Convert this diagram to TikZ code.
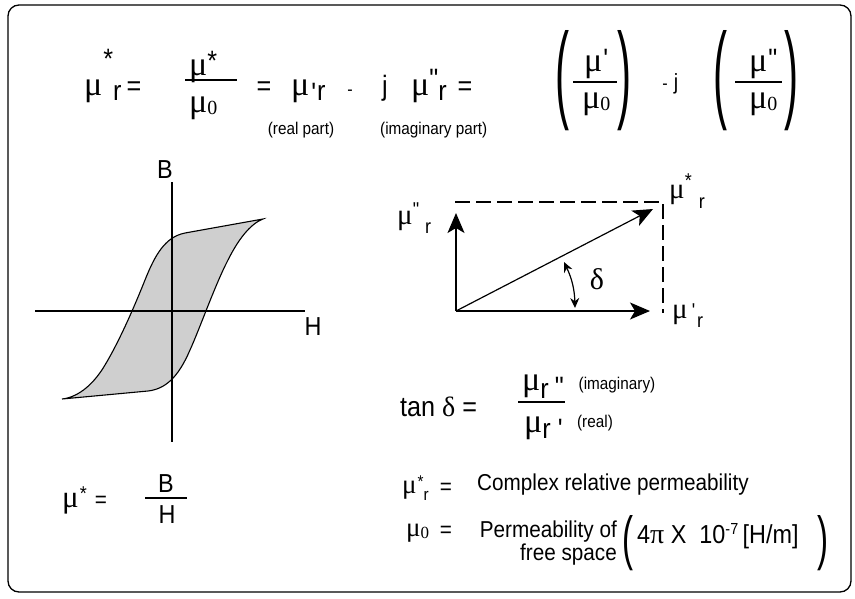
\documentclass[tikz,border=0pt]{standalone}
\usepackage{fontspec}
\usepackage{graphicx}
\newfontfamily\lbl{Liberation Sans}[FakeStretch=0.9]
\newfontfamily\grk{Liberation Serif}
\newcommand\fsz[1]{\fontsize{#1}{#1}\selectfont}
\newcommand\mus[1]{{\grk\fsz{#1}μ}}
\newcommand\muo[2]{\mus{#1}\raisebox{-2pt}{\grk\fsz{#2}0}}
\usetikzlibrary{arrows.meta, calc}

\begin{document}
\begin{tikzpicture}[
    x=1pt, y=-1pt,
    big/.style={inner sep=0pt, font=\lbl\fsz{28}},
    mid/.style={inner sep=0pt, font=\lbl\fsz{23}},
    lab/.style={inner sep=0pt, font=\lbl\fsz{20}},
    tiny/.style={inner sep=0pt, font=\lbl\fsz{17}},
    paren/.style={inner sep=0pt, font=\lbl\fsz{30}},
    bar/.style={line width=1.6pt},
    axis/.style={line width=1.1pt},
    vec/.style={-{Stealth[length=20pt, width=17pt, inset=5pt]}, line width=1.2pt},
    guide/.style={dashed, dash pattern=on 15pt off 6pt, line width=2.6pt},
    loopline/.style={draw=black, fill=black!19, line width=1.1pt},
]
\useasboundingbox (0,0) rectangle (855,598);
\draw[line width=1.3pt, rounded corners=11pt] (8,5) rectangle (851,592);

% Complex relative permeability
\node[big, anchor=base west] (mur) at (84,95) {\mus{34}\kern1pt\raisebox{27pt}{*}\raisebox{-5pt}{r}};
\node[big, anchor=base] (eq1) at (134,95) {=};
\node[big, anchor=base west] (num1) at (189,75) {\mus{34}\raisebox{5pt}{*}};
\node[big, anchor=base west] (den1) at (189,112) {\muo{34}{20}};
\draw[bar] (185,80) -- (237,80);
\node[big, anchor=base] (eq2) at (264,95) {=};
\node[big, anchor=base west] (mupr) at (291,95) {\mus{34}\kern2pt\raisebox{-7pt}{'}\kern1pt\raisebox{-5pt}{r}};
\node[big, anchor=base, font=\lbl\fsz{18}] (minus1) at (350,95) {-};
\node[big, anchor=base] (jay1) at (385,95) {j};
\node[big, anchor=base west] (mudpr) at (411,95) {\mus{34}\raisebox{7pt}{"}\raisebox{-5pt}{r}};
\node[big, anchor=base] (eq3) at (465,95) {=};
\node[tiny] (realpt) at (301,130) {(real part)};
\node[tiny, anchor=west] (imagpt) at (380,130) {(imaginary part)};

% Bracketed quotients
\node[paren] (lp1) at (562,81) {\resizebox{14pt}{78pt}{(}};
\node[big, anchor=base west] (num2) at (584,71) {\mus{34}\kern1pt\raisebox{3pt}{'}};
\draw[bar] (573,82) -- (617,82);
\node[big, anchor=base west] (den2) at (582,108) {\muo{34}{20}};
\node[paren] (rp1) at (624,81) {\resizebox{14pt}{78pt}{)}};
\node[big, anchor=base, font=\lbl\fsz{18}] (minus2) at (665,89) {-};
\node[big, anchor=base, font=\lbl\fsz{22}] (jay2) at (676,89) {j};
\node[paren] (lp2) at (720,81) {\resizebox{14pt}{78pt}{(}};
\node[big, anchor=base west] (num3) at (749,71) {\mus{34}\kern1pt\raisebox{3pt}{"}};
\draw[bar] (735,82) -- (782,82);
\node[big, anchor=base west] (den3) at (749,108) {\muo{34}{20}};
\node[paren] (rp2) at (791,81) {\resizebox{14pt}{78pt}{)}};

% B-H loop
\coordinate (vtop) at (172,182);
\coordinate (vbot) at (172,442);
\coordinate (hlft) at (35,311);
\coordinate (hrgt) at (305,311);
\draw[loopline] (263,219) -- (185,233)
    .. controls (165,237) and (155,255) .. (145,280)
    .. controls (135,305) and (120,340) .. (105,365)
    .. controls (95,382) and (80,397) .. (62,399)
    -- (148,391)
    .. controls (165,389) and (178,378) .. (190,350)
    .. controls (200,328) and (215,285) .. (228,260)
    .. controls (238,240) and (250,224) .. (263,219) -- cycle;
\draw[axis] (vtop) -- (vbot);
\draw[axis] (hlft) -- (hrgt);
\node[big, font=\lbl\fsz{26}] (bax) at (165,170) {B};
\node[big, font=\lbl\fsz{26}] (hax) at (313,327) {H};

% Phasor
\coordinate (org) at (456,311);
\coordinate (imtip) at (456,213);
\coordinate (retip) at (650,311);
\coordinate (cxtip) at (653,209);
\coordinate (gl) at (455,202);
\coordinate (gc) at (663,202);
\coordinate (gb) at (663,313);
\coordinate (da) at (575,308);
\coordinate (db) at (564,262);
\draw[guide] (gl) -- (gc) -- (gb);
\draw[vec] (org) -- (imtip);
\draw[vec] (org) -- (retip);
\draw[vec] (org) -- (cxtip);
\draw[{Stealth[length=10pt, width=9pt]}-{Stealth[length=10pt, width=9pt]}, line width=1.2pt] (da) to[bend right=12] (db);
\node[inner sep=0pt, font=\grk\fsz{30}] (delta) at (597,279) {δ};
\node[lab, anchor=base west] (muimag) at (397,224) {\mus{29}\raisebox{8pt}{"}\kern6pt\raisebox{-9pt}{r}};
\node[lab, anchor=base west] (mustar) at (669,198) {\mus{29}\raisebox{11pt}{*}\kern7pt\raisebox{-10pt}{r}};
\node[lab, anchor=base west] (mureal) at (672,318) {\mus{29}\kern4pt\raisebox{1pt}{'}\kern2pt\raisebox{-9pt}{r}};

% Loss tangent
\node[big, anchor=base west] (tand) at (400,416) {tan {\grk δ} =};
\node[big, anchor=base west] (num4) at (522,390) {\mus{34}\raisebox{-8pt}{r}\kern6pt\raisebox{-6pt}{"}};
\draw[bar] (518,402) -- (565,402);
\node[big, anchor=base west] (den4) at (524,432) {\mus{34}\raisebox{-6pt}{r}\kern7pt\raisebox{-6pt}{'}};
\node[tiny] (imagw) at (617,385) {(imaginary)};
\node[tiny] (realw) at (595,423) {(real)};

% mu* = B/H
\node[mid, anchor=base west] (mub) at (62,507) {\mus{31}\kern1pt\raisebox{7pt}{\fsz{20}*}};
\node[mid, anchor=base] (eq4) at (101,507) {=};
\draw[bar] (145,498) -- (187,498);
\node[big, anchor=base, font=\lbl\fsz{26}] (bnum) at (166,492) {B};
\node[big, anchor=base, font=\lbl\fsz{26}] (hden) at (167,523) {H};

% Definitions
\node[mid, anchor=base west] (mur2) at (402,493) {\mus{27}\kern1pt\raisebox{6pt}{\fsz{17}*}\raisebox{-7pt}{\fsz{17}r}};
\node[mid, anchor=base] (eq5) at (446,494) {=};
\node[mid, anchor=base west] (cplx) at (477,490) {Complex relative permeability};
\node[mid, anchor=base west] (mu0b) at (406,536) {\muo{27}{17}};
\node[mid, anchor=base] (eq6) at (446,537) {=};
\node[mid, anchor=base east] (perm1) at (617,537) {Permeability of};
\node[mid, anchor=base east] (perm2) at (617,560) {free space};
\node[paren] (lp3) at (628,543) {\resizebox{11pt}{43pt}{(}};
\node[mid, anchor=base west, font=\lbl\fsz{26}] (const) at (637,543) {4{\grk\fsz{28}π}\ X\ \ 10\raisebox{9pt}{\fsz{16}-7}\,[H/m]};
\node[paren] (rp3) at (823,543) {\resizebox{11pt}{43pt}{)}};

\end{tikzpicture}
\end{document}
